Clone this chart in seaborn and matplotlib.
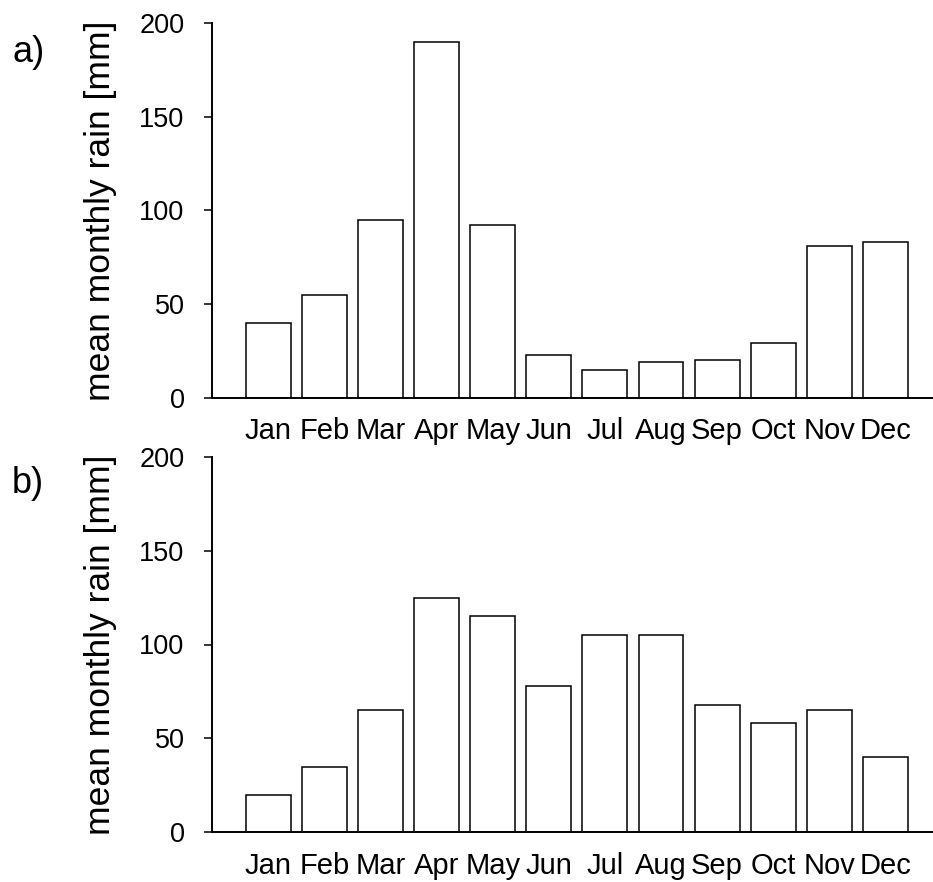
import matplotlib
matplotlib.use("Agg")
import matplotlib.pyplot as plt
import seaborn as sns
import pandas as pd

months = ["Jan", "Feb", "Mar", "Apr", "May", "Jun", "Jul", "Aug", "Sep", "Oct", "Nov", "Dec"]
rain_a = [40, 55, 95, 190, 92, 23, 15, 19, 20, 29, 81, 83]
rain_b = [20, 35, 65, 125, 115, 78, 105, 105, 68, 58, 65, 40]
yticks = [0, 50, 100, 150, 200]
panel_labels = ["a)", "b)"]
ylabel = "mean monthly rain [mm]"

sns.set_style("ticks")
plt.rcParams["font.family"] = ["Liberation Sans", "DejaVu Sans"]
plt.rcParams["text.color"] = "black"
plt.rcParams["axes.labelcolor"] = "black"
plt.rcParams["xtick.color"] = "black"
plt.rcParams["ytick.color"] = "black"

fig = plt.figure(figsize=(9.33, 8.82), dpi=100)
left = 212.3 / 933
width = 1 - left
ax_a = fig.add_axes([left, 1 - 397.7 / 882, width, (397.7 - 23) / 882])
ax_b = fig.add_axes([left, 1 - 832.3 / 882, width, (832.3 - 456.7) / 882])

for ax, vals, lab, ybase in [(ax_a, rain_a, panel_labels[0], 62), (ax_b, rain_b, panel_labels[1], 493)]:
    df = pd.DataFrame({"month": months, "rain": vals})
    sns.barplot(data=df, x="month", y="rain", color="white", edgecolor="black",
                linewidth=1.1, width=0.8, saturation=1, ax=ax)
    ax.set_xlim(-1.0, 11.85)
    ax.set_ylim(0, 200)
    ax.set_yticks(yticks)
    ax.set_xlabel("")
    ax.set_ylabel(ylabel, fontsize=25.5, color="black")
    ax.yaxis.set_label_coords(-0.132, 0.5)
    for s in ["top", "right"]:
        ax.spines[s].set_visible(False)
    for s in ["left", "bottom"]:
        ax.spines[s].set_linewidth(1.4)
        ax.spines[s].set_color("black")
    ax.tick_params(axis="y", direction="out", length=6, width=1.1, pad=14,
                   labelsize=19.5, colors="black", labelcolor="black")
    ax.tick_params(axis="x", length=0, pad=14, labelsize=21, colors="black", labelcolor="black")
    ax.set_facecolor("white")
    fig.text(12 / 933, 1 - ybase / 882, lab, fontsize=26, ha="left", va="baseline", color="black")

fig.savefig("out.png", dpi=100, facecolor="white")
